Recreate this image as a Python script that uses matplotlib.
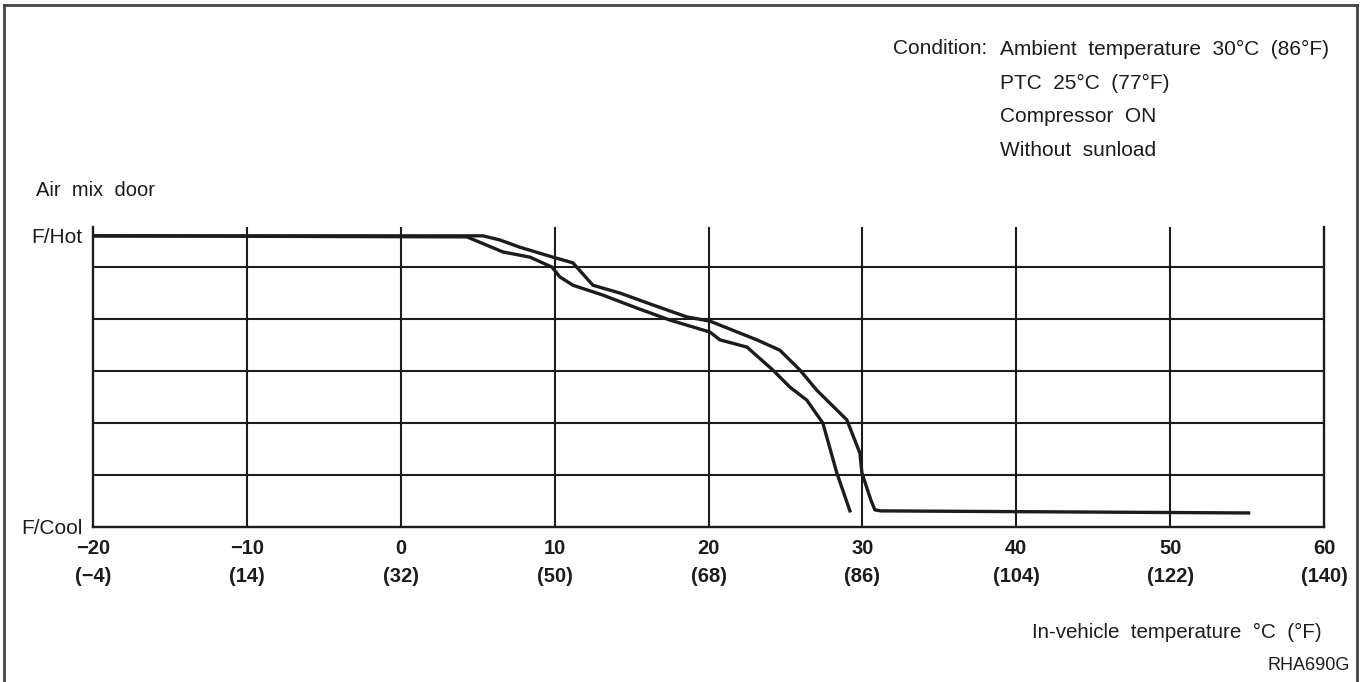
import matplotlib
matplotlib.use("Agg")
import matplotlib.pyplot as plt
from matplotlib.lines import Line2D

# In-vehicle temperature (degC) vs. air mix door position
# (0 = F/Cool, 5.6 = F/Hot, grid rows at 1..5)
temp_falling = [-20.0, 5.34, 6.45, 7.75, 9.89, 11.19, 12.49, 14.24, 16.39, 18.60,
                20.09, 23.14, 24.64, 25.94, 27.04, 28.34, 28.99, 29.84, 29.97,
                30.55, 30.81, 31.2, 55.1]
door_falling = [5.60, 5.60, 5.52, 5.38, 5.19, 5.08, 4.65, 4.50, 4.27, 4.04,
                3.96, 3.60, 3.40, 3.02, 2.63, 2.25, 2.06, 1.42, 1.04,
                0.52, 0.33, 0.31, 0.27]

temp_rising = [-20.0, 4.30, 6.64, 8.40, 9.82, 10.34, 11.19, 13.14, 15.35, 17.49,
               20.09, 20.74, 22.50, 24.18, 25.29, 26.39, 27.43, 28.34, 29.19]
door_rising = [5.60, 5.58, 5.29, 5.19, 5.00, 4.81, 4.65, 4.46, 4.21, 3.98,
               3.75, 3.60, 3.46, 3.02, 2.69, 2.44, 2.00, 1.04, 0.31]

celsius_ticks = [-20, -10, 0, 10, 20, 30, 40, 50, 60]
fahrenheit_ticks = [-4, 14, 32, 50, 68, 86, 104, 122, 140]
door_grid = [1, 2, 3, 4, 5]
door_labels = {"F/Cool": 0.0, "F/Hot": 5.6}

condition_title = "Condition:"
condition_lines = ["Ambient  temperature  30°C  (86°F)",
                   "PTC  25°C  (77°F)",
                   "Compressor  ON",
                   "Without  sunload"]

INK = "#1c1c1c"
plt.rcParams["font.family"] = ["Liberation Sans", "DejaVu Sans"]

W, H = 1361, 682
fig = plt.figure(figsize=(W / 100, H / 100), dpi=100)
fig.patch.set_facecolor("white")

def fx(px):
    return px / W

def fy(py):
    return 1 - py / H

ax = fig.add_axes([fx(93), fy(527), fx(1324) - fx(93), (527 - 227) / H])
ax.set_xlim(-20, 60)
ax.set_ylim(0, 5.77)

# grid
for g in door_grid:
    ax.axhline(g, color=INK, lw=1.5, zorder=1)
for t in celsius_ticks[1:-1]:
    ax.axvline(t, color=INK, lw=1.5, zorder=1)

ax.plot(temp_falling, door_falling, color=INK, lw=2.4, solid_joinstyle="round", zorder=3)
ax.plot(temp_rising, door_rising, color=INK, lw=2.4, solid_joinstyle="round", zorder=3)

for side in ("left", "right", "bottom"):
    ax.spines[side].set_linewidth(1.7)
    ax.spines[side].set_color(INK)
ax.spines["top"].set_visible(False)

def minus(v):
    return f"{v}".replace("-", "\u2212")

ax.set_xticks(celsius_ticks)
ax.set_xticklabels([f"{minus(c)}\n({minus(f)})" for c, f in zip(celsius_ticks, fahrenheit_ticks)],
                   fontsize=14.5, fontweight="bold", color=INK, linespacing=1.6)
ax.tick_params(axis="x", length=0, pad=9)

ax.set_yticks(list(door_labels.values()))
ax.set_yticklabels(list(door_labels.keys()), fontsize=15, color=INK)
ax.tick_params(axis="y", length=0, pad=7.5)

# annotations
fig.text(fx(36), fy(190), "Air  mix  door", fontsize=14.5, color=INK, ha="left", va="center")
fig.text(fx(893), fy(49), condition_title, fontsize=15, color=INK, ha="left", va="center")
for i, line in enumerate(condition_lines):
    fig.text(fx(1000), fy(49 + 34 * i), line, fontsize=15, color=INK, ha="left", va="center")
fig.text(fx(1322), fy(632), "In-vehicle  temperature  °C  (°F)", fontsize=14.8, color=INK,
         ha="right", va="center")
fig.text(fx(1350), fy(665), "RHA690G", fontsize=13, color=INK, ha="right", va="center")

# outer frame (open at the bottom)
frame_kw = dict(color="#444444", lw=2.0, transform=fig.transFigure)
fig.add_artist(Line2D([fx(4), fx(4)], [fy(5), 0], **frame_kw))
fig.add_artist(Line2D([fx(4), fx(1357)], [fy(5), fy(5)], **frame_kw))
fig.add_artist(Line2D([fx(1357), fx(1357)], [fy(5), 0], **frame_kw))

fig.savefig("out.png", dpi=100, facecolor="white")
